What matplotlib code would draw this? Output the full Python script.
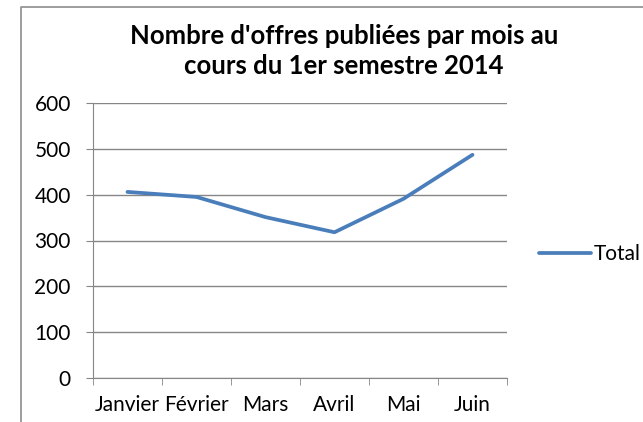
import matplotlib.pyplot as plt
from matplotlib.lines import Line2D

mois = ["Janvier", "Février", "Mars", "Avril", "Mai", "Juin"]
total = [406, 395, 351, 318, 391, 487]

plt.rcParams['font.family'] = ['Lato', 'DejaVu Sans']

W, H = 643, 422
fig = plt.figure(figsize=(W / 100, H / 100), dpi=100)

# cadre du graphique (coupé à droite et en bas)
fig.add_artist(Line2D([21 / W, 21 / W, 1], [0, 1 - 7 / H, 1 - 7 / H],
                      color="#8c8c8c", lw=1.2))

ax = fig.add_axes([93 / W, 1 - 378 / H, (507 - 93) / W, (378 - 103) / H])
x = range(len(mois))
ax.plot(x, total, color="#4A7EBB", lw=2.7, solid_capstyle="round", label="Total")

ax.set_xlim(-0.5, len(mois) - 0.5)
ax.set_ylim(0, 600)
ax.set_yticks(range(0, 601, 100))
ax.set_xticks(x)
ax.set_xticklabels(mois)
ax.set_xticks([i - 0.5 for i in range(len(mois) + 1)], minor=True)
ax.tick_params(axis="x", which="major", length=0, pad=12, labelsize=15)
ax.tick_params(axis="x", which="minor", length=5, color="#868686", direction="out")
ax.tick_params(axis="y", length=5, color="#868686", labelsize=15, pad=11)

ax.grid(axis="y", color="#868686", lw=1.0)
for s in ["top", "right"]:
    ax.spines[s].set_visible(False)
for s in ["left", "bottom"]:
    ax.spines[s].set_color("#868686")

fig.text(344 / W, 1 - 51 / H, "Nombre d'offres publiées par mois au\ncours du 1er semestre 2014",
         ha="center", va="center", fontsize=18.5, fontweight="bold", linespacing=1.25)

ax.legend(loc="center left", bbox_to_anchor=(539 / W, 1 - 254 / H),
          bbox_transform=fig.transFigure, frameon=False, fontsize=15,
          handlelength=2.5, handletextpad=0.15, borderpad=0, borderaxespad=0)

fig.savefig("out.png", dpi=100)
